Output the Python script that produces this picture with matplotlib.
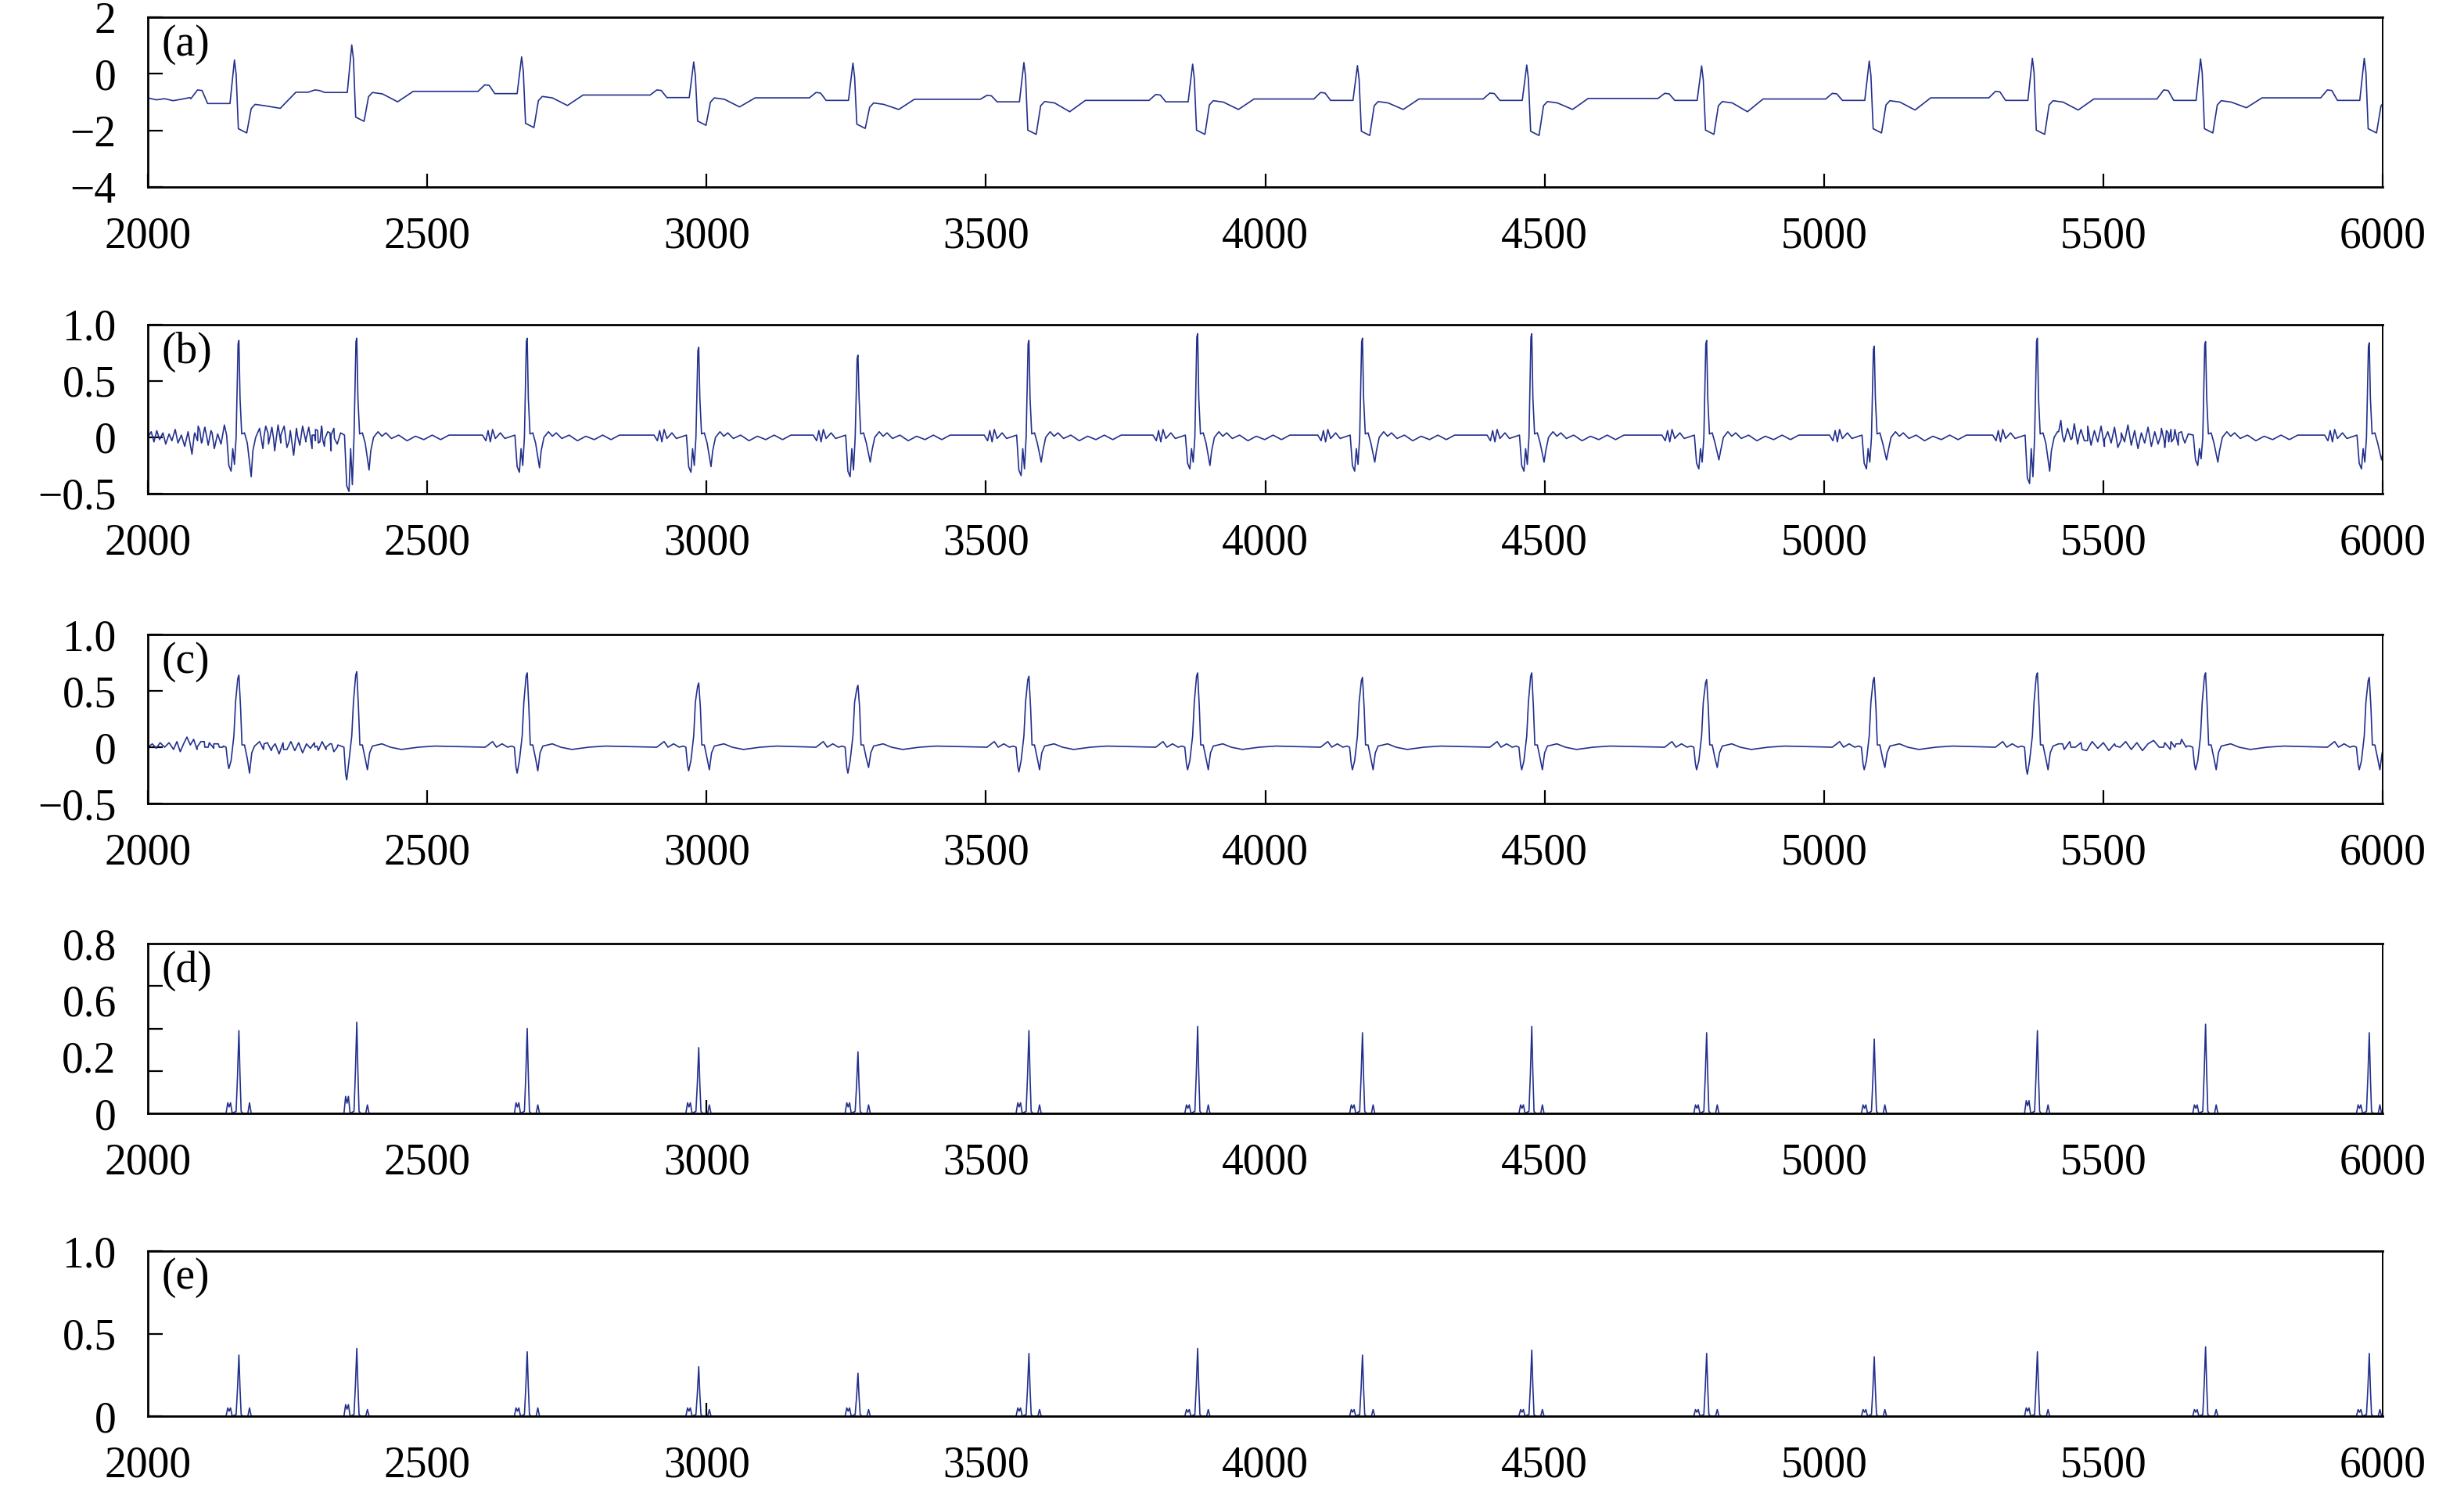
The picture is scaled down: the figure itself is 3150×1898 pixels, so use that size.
import matplotlib.pyplot as plt
from matplotlib.ticker import FixedLocator, FixedFormatter

plt.rcParams['font.family'] = ['Liberation Serif', 'DejaVu Serif']

# R-peak sample index of each beat: raw trace (a) and filtered traces (b)-(e)
r_raw = [2155, 2365, 2669, 2977, 3262, 3568, 3870, 4165, 4468, 4781, 5081, 5373, 5674, 5967]
r_filt = [2163, 2374, 2679, 2986, 3271, 3577, 3879, 4174, 4477, 4790, 5090, 5382, 5683, 5976]

# (a) raw signal, per beat: P wave, level before R, R peak, S trough,
# level after S, inverted T dip, level between beats
a_p = [-0.57, -0.57, -0.39, -0.57, -0.66, -0.76, -0.73, -0.66, -0.68, -0.69, -0.69, -0.62, -0.57, -0.57]
a_pre = [-1.05, -0.66, -0.70, -0.84, -0.94, -0.99, -0.99, -0.94, -0.94, -0.94, -0.94, -0.94, -0.94, -0.94]
a_r = [0.49, 1.02, 0.60, 0.42, 0.38, 0.40, 0.34, 0.29, 0.31, 0.28, 0.45, 0.55, 0.53, 0.55]
a_s = [-2.09, -1.68, -1.90, -1.82, -1.93, -2.14, -2.14, -2.18, -2.18, -2.14, -2.09, -2.14, -2.09, -2.09]
a_rec = [-1.08, -0.66, -0.80, -0.85, -1.03, -0.98, -0.95, -0.98, -0.98, -0.98, -0.95, -0.95, -0.95, -0.98]
a_t = [-1.22, -0.99, -1.12, -1.17, -1.26, -1.34, -1.26, -1.26, -1.26, -1.34, -1.28, -1.28, -1.20, -1.25]
a_mid = [-0.65, -0.62, -0.75, -0.85, -0.90, -0.94, -0.89, -0.89, -0.87, -0.89, -0.85, -0.89, -0.85, -0.90]
a_lead = [(2000, -0.85), (2015, -0.92), (2030, -0.88), (2045, -0.95), (2060, -0.90), (2075, -0.84)]

# (b) band-pass output: R peak, Q dip, S dip
b_r = [0.86, 0.88, 0.88, 0.80, 0.73, 0.86, 0.92, 0.88, 0.92, 0.86, 0.81, 0.88, 0.85, 0.84]
b_q = [-0.30, -0.48, -0.31, -0.31, -0.35, -0.34, -0.28, -0.30, -0.30, -0.28, -0.28, -0.41, -0.25, -0.28]
b_s = [-0.35, -0.29, -0.27, -0.26, -0.22, -0.22, -0.25, -0.22, -0.22, -0.20, -0.20, -0.30, -0.22, -0.20]
b_noise = [(2000, 0.0), (2006, 0.05), (2011, -0.04), (2016, 0.06), (2021, -0.02), (2027, 0.04),
           (2032, -0.06), (2038, 0.03), (2043, -0.03), (2049, 0.07), (2054, -0.05), (2060, 0.02),
           (2066, -0.08), (2072, 0.05), (2079, -0.15), (2084, 0.04), (2090, 0.10), (2096, -0.05),
           (2102, 0.09), (2108, -0.07), (2113, 0.06), (2119, -0.10), (2125, 0.03), (2131, -0.06),
           (2137, 0.11),
           (2200, 0.08), (2206, -0.10), (2211, 0.10), (2216, -0.06), (2222, 0.09), (2227, -0.12),
           (2233, 0.11), (2238, -0.05), (2244, 0.10), (2249, -0.09), (2255, 0.06), (2261, -0.16),
           (2266, 0.08), (2272, -0.07), (2277, 0.10), (2283, -0.04), (2288, 0.09), (2294, -0.10),
           (2300, 0.07), (2305, -0.05), (2311, 0.10), (2316, -0.08), (2322, 0.05), (2328, -0.12),
           (2333, 0.08), (2339, -0.06), (2345, 0.04),
           (5418, 0.05), (5424, 0.15), (5430, -0.04), (5436, 0.08), (5442, -0.02), (5448, 0.12),
           (5454, -0.06), (5460, 0.07), (5466, -0.03), (5472, 0.10), (5478, -0.07), (5484, 0.06),
           (5490, -0.04), (5496, 0.10), (5502, -0.08), (5508, 0.05), (5514, -0.05), (5520, 0.09),
           (5526, -0.09), (5532, 0.04), (5538, -0.04), (5544, 0.11), (5550, -0.07), (5556, 0.06),
           (5562, -0.10), (5568, 0.04), (5574, -0.05), (5580, 0.09), (5586, -0.08), (5592, 0.05),
           (5598, -0.06), (5604, 0.08), (5610, -0.09), (5616, 0.04), (5622, -0.04), (5628, 0.07),
           (5634, -0.07), (5640, 0.05), (5646, -0.05), (5652, 0.03)]

# (c) second filter stage
c_r = [0.64, 0.67, 0.66, 0.57, 0.55, 0.63, 0.66, 0.62, 0.66, 0.60, 0.62, 0.66, 0.66, 0.62]
c_q = [-0.19, -0.29, -0.23, -0.21, -0.23, -0.22, -0.20, -0.20, -0.20, -0.20, -0.20, -0.24, -0.20, -0.20]
c_s = [-0.23, -0.20, -0.21, -0.20, -0.18, -0.20, -0.20, -0.20, -0.20, -0.18, -0.18, -0.20, -0.20, -0.20]
c_noise = [(2000, 0.0), (2008, 0.03), (2015, -0.01), (2022, 0.04), (2030, 0.0), (2038, 0.04),
           (2046, -0.02), (2052, 0.05), (2058, -0.04), (2064, 0.03), (2070, 0.09), (2076, 0.02),
           (2082, 0.07), (2088, -0.02), (2095, 0.05), (2102, 0.0), (2110, 0.04), (2118, -0.01),
           (2126, 0.03), (2134, 0.0),
           (2200, 0.05), (2207, -0.02), (2214, 0.04), (2221, -0.03), (2228, 0.03), (2235, -0.06),
           (2242, 0.04), (2249, -0.02), (2256, 0.05), (2263, -0.03), (2270, 0.04), (2277, -0.05),
           (2284, 0.03), (2291, -0.01), (2298, 0.04), (2305, -0.03), (2312, 0.05), (2319, -0.02),
           (2326, 0.03), (2333, -0.04), (2340, 0.02),
           (5420, 0.03), (5430, -0.02), (5440, 0.05), (5450, 0.0), (5460, 0.04), (5470, -0.03),
           (5480, 0.05), (5490, -0.01), (5500, 0.04), (5510, -0.03), (5520, 0.03), (5530, 0.0),
           (5540, 0.05), (5550, -0.02), (5560, 0.04), (5570, -0.03), (5580, 0.03), (5590, 0.06),
           (5600, 0.0), (5610, 0.04), (5620, -0.02), (5630, 0.03), (5640, 0.07), (5650, 0.01)]

# (d) squared signal and (e) its smoothed version: main peak, side lobes
d_r = [0.39, 0.43, 0.40, 0.31, 0.29, 0.39, 0.41, 0.38, 0.41, 0.38, 0.35, 0.39, 0.42, 0.38]
d_q = [0.05, 0.08, 0.05, 0.05, 0.05, 0.05, 0.04, 0.04, 0.04, 0.04, 0.04, 0.06, 0.04, 0.04]
d_s = [0.05, 0.04, 0.04, 0.04, 0.04, 0.04, 0.04, 0.04, 0.04, 0.04, 0.04, 0.04, 0.04, 0.04]
e_r = [0.37, 0.41, 0.39, 0.30, 0.26, 0.38, 0.41, 0.37, 0.40, 0.38, 0.36, 0.39, 0.42, 0.38]
e_q = [0.05, 0.07, 0.05, 0.05, 0.05, 0.05, 0.04, 0.04, 0.04, 0.04, 0.04, 0.05, 0.04, 0.04]
e_s = [0.05, 0.04, 0.05, 0.04, 0.04, 0.04, 0.04, 0.04, 0.04, 0.04, 0.04, 0.04, 0.04, 0.04]

x_labels = ['2000', '2500', '3000', '3500', '4000', '4500', '5000', '5500', '6000']


def trace_a():
    pts = list(a_lead)
    for i, r in enumerate(r_raw):
        prev = a_mid[i - 1] if i else -0.88
        pts += [(r - 78, prev), (r - 66, a_p[i]), (r - 58, a_p[i] - 0.02), (r - 48, a_pre[i]),
                (r - 8, a_pre[i]), (r, a_r[i]), (r + 3, a_r[i] - 0.5), (r + 7, a_s[i] + 0.15),
                (r + 22, a_s[i]), (r + 30, a_rec[i] - 0.15), (r + 37, a_rec[i]),
                (r + 55, a_rec[i] - 0.05), (r + 82, a_t[i]), (r + 110, a_mid[i])]
    return pts


def trace_b():
    pts = list(b_noise)
    for i, r in enumerate(r_filt):
        pts += [(r - 80, 0.02), (r - 74, -0.03), (r - 70, 0.06), (r - 66, -0.04), (r - 62, 0.07),
                (r - 57, -0.01), (r - 48, 0.04), (r - 40, -0.01), (r - 22, 0.02),
                (r - 18, b_q[i] + 0.05), (r - 14, b_q[i]), (r - 11, -0.1), (r - 8, b_q[i] + 0.06),
                (r - 5, 0.0), (r - 1.5, b_r[i] - 0.03), (r, b_r[i]), (r + 2, 0.35), (r + 5, 0.03),
                (r + 10, 0.04), (r + 15, -0.05), (r + 22, b_s[i]), (r + 25, -0.12),
                (r + 30, 0.0), (r + 38, 0.05), (r + 45, 0.01), (r + 52, 0.04), (r + 62, -0.01),
                (r + 75, 0.02), (r + 90, -0.03), (r + 105, 0.01), (r + 120, -0.02),
                (r + 135, 0.02), (r + 150, -0.02), (r + 165, 0.02)]
    return pts


def trace_c():
    pts = list(c_noise)
    for i, r in enumerate(r_filt):
        pts += [(r - 75, 0.0), (r - 62, 0.05), (r - 55, 0.0), (r - 45, 0.03), (r - 35, 0.0),
                (r - 28, 0.01), (r - 23, 0.0), (r - 20, c_q[i] + 0.05), (r - 18, c_q[i]),
                (r - 14, -0.12), (r - 9, 0.1), (r - 6, 0.4), (r - 2, c_r[i] - 0.03), (r, c_r[i]),
                (r + 3, 0.35), (r + 5.5, 0.02), (r + 10, 0.02), (r + 15, -0.1), (r + 19, c_s[i]),
                (r + 23, -0.05), (r + 28, 0.01), (r + 45, 0.03), (r + 60, 0.0), (r + 80, -0.02),
                (r + 110, 0.0), (r + 140, 0.01)]
    return pts


def trace_sq(peak, left, right):
    pts = [(2000, 0.0)]
    for i, r in enumerate(r_filt):
        pts += [(r - 23, 0.0), (r - 20, left[i]), (r - 17.5, left[i] * 0.6), (r - 15, left[i]),
                (r - 12, 0.0), (r - 5, 0.01), (r - 2.5, peak[i] * 0.45), (r, peak[i]),
                (r + 2, peak[i] * 0.45), (r + 4, 0.01), (r + 7, 0.0), (r + 16, 0.0),
                (r + 19, right[i]), (r + 22, 0.0)]
    pts.append((6000, 0.0))
    return pts


panels = [
    ('(a)', trace_a(), (-4, 2), [2, 0, -2, -4], ['2', '0', '\u22122', '\u22124'], None, 'all'),
    ('(b)', trace_b(), (-0.5, 1.0), [1.0, 0.5, 0, -0.5], ['1.0', '0.5', '0', '\u22120.5'], None, 'all'),
    ('(c)', trace_c(), (-0.5, 1.0), [1.0, 0.5, 0, -0.5], ['1.0', '0.5', '0', '\u22120.5'], None, 'all'),
    ('(d)', trace_sq(d_r, d_q, d_s), (0, 0.8), [0.8, 0.533, 0.267, 0], ['0.8', '0.6', '0.2', '0'],
     [0.2, 0.4, 0.6], 'one'),
    ('(e)', trace_sq(e_r, e_q, e_s), (0, 1.0), [1.0, 0.5, 0], ['1.0', '0.5', '0'], None, 'one'),
]

boxes = [(0.87408, 0.11433), (0.66755, 0.11380), (0.45890, 0.11380), (0.25026, 0.11433),
         (0.04636, 0.11117)]

fig = plt.figure(figsize=(31.5, 18.98), dpi=100)
for (tag, pts, ylim, yt, ylab, ymarks, xmode), (bot, h) in zip(panels, boxes):
    ax = fig.add_axes([0.0600, bot, 0.9070, h])
    pts = sorted(pts)
    ax.plot([p[0] for p in pts], [p[1] for p in pts], color='#22308c', lw=1.2)
    ax.set_xlim(2000, 6000)
    ax.set_ylim(*ylim)
    for sp in ax.spines.values():
        sp.set_linewidth(2.0)
    ax.spines['right'].set_linewidth(1.4)

    ax.xaxis.set_major_locator(FixedLocator(list(range(2000, 6001, 500))))
    ax.xaxis.set_major_formatter(FixedFormatter(x_labels))
    ax.yaxis.set_major_locator(FixedLocator(yt))
    ax.yaxis.set_major_formatter(FixedFormatter(ylab))
    ax.tick_params(axis='both', which='major', direction='in', labelsize=40, width=1.6)
    ax.tick_params(axis='x', which='major', length=12.5, pad=27)
    ax.tick_params(axis='y', which='major', length=14, pad=29)
    if ymarks is not None:
        ax.tick_params(axis='y', which='major', length=0)
        ax.yaxis.set_minor_locator(FixedLocator(ymarks))
        ax.tick_params(axis='y', which='minor', direction='in', length=14, width=1.6)
    if xmode == 'one':
        ax.tick_params(axis='x', which='major', length=0)
        ax.xaxis.remove_overlapping_locs = False
        ax.xaxis.set_minor_locator(FixedLocator([3000]))
        ax.tick_params(axis='x', which='minor', direction='in', length=12.5, width=1.6)
    ax.text(0.006, 0.96, tag, transform=ax.transAxes, ha='left', va='top', fontsize=40)

fig.savefig('out.png', dpi=100)
